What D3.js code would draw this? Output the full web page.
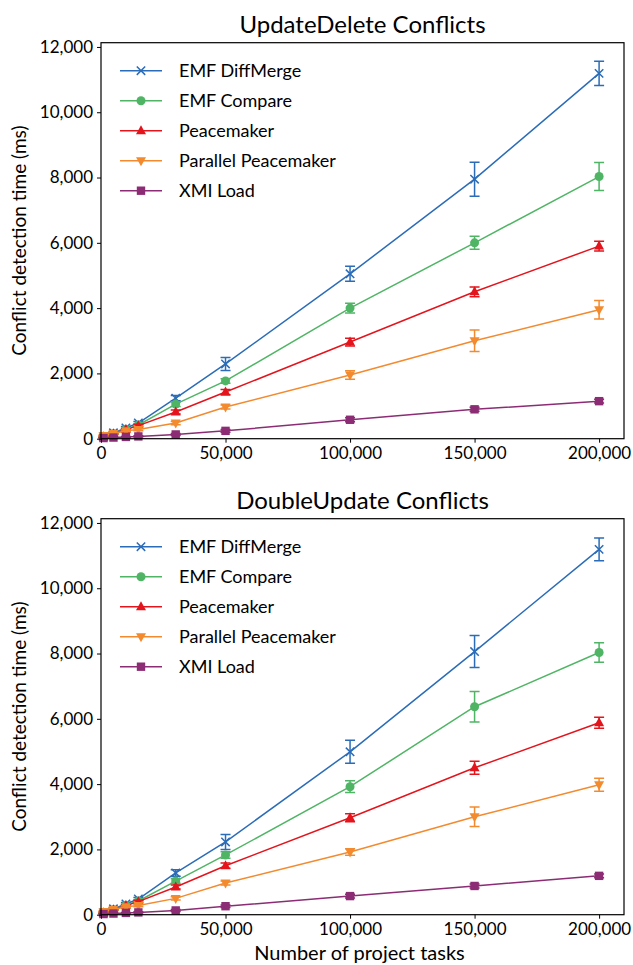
<!DOCTYPE html>
<html><head><meta charset="utf-8">
<script src="https://cdn.jsdelivr.net/npm/d3@7"></script>
<style>body{margin:0;background:#fff;} svg{display:block;font-family:Lato,"Open Sans",sans-serif;}</style>
</head><body>
<svg id="c" width="633" height="965"></svg>
<script>
const xs = [1000, 5000, 10000, 15000, 30000, 50000, 100000, 150000, 200000];
const seriesNames = ["EMF DiffMerge", "EMF Compare", "Peacemaker", "Parallel Peacemaker", "XMI Load"];
const colors = ["#2b6cb8", "#4fb565", "#e3141c", "#f38a2e", "#8b2c74"];
const markers = ["x", "circle", "tri-up", "tri-down", "square"];
const titles = ["UpdateDelete Conflicts", "DoubleUpdate Conflicts"];
const xTicks = [0, 50000, 100000, 150000, 200000];
const yTicks = [0, 2000, 4000, 6000, 8000, 10000, 12000];

// UpdateDelete
const udMean = [
  [60, 180, 330, 480, 1240, 2290, 5050, 7950, 11190],
  [50, 150, 290, 420, 1060, 1770, 4000, 6000, 8030],
  [60, 150, 280, 400, 820, 1430, 2960, 4500, 5900],
  [100, 160, 240, 280, 480, 970, 1950, 3000, 3950],
  [20, 35, 55, 70, 130, 240, 580, 900, 1150]
];
const udErr = [
  [20, 30, 40, 50, 80, 200, 230, 520, 370],
  [15, 25, 30, 40, 70, 70, 150, 200, 430],
  [15, 25, 30, 40, 60, 80, 120, 150, 150],
  [20, 25, 30, 40, 50, 60, 130, 330, 280],
  [10, 10, 15, 20, 30, 40, 60, 60, 60]
];
// DoubleUpdate
const duMean = [
  [60, 180, 330, 480, 1280, 2230, 4990, 8060, 11190],
  [50, 150, 290, 420, 1030, 1830, 3920, 6370, 8030],
  [60, 150, 280, 400, 850, 1500, 2970, 4500, 5880],
  [100, 160, 240, 280, 500, 970, 1920, 3000, 3980],
  [20, 35, 55, 70, 130, 260, 570, 880, 1190]
];
const duErr = [
  [20, 30, 40, 50, 100, 230, 350, 490, 350],
  [15, 25, 30, 40, 70, 100, 180, 470, 300],
  [15, 25, 30, 40, 60, 80, 120, 200, 170],
  [20, 25, 30, 40, 50, 60, 100, 300, 200],
  [10, 10, 15, 20, 30, 40, 60, 60, 60]
];

const svg = d3.select("#c");
const L = 101, R = 624;
const panels = [
  {top: 42.7, bottom: 438.7, mean: udMean, err: udErr, title: titles[0], xlabel: false},
  {top: 518.7, bottom: 914.7, mean: duMean, err: duErr, title: titles[1], xlabel: true}
];
const fmt = d3.format(",");

function drawMarker(g, type, x, y, color) {
  const s = 4.2;
  if (type === "x") {
    g.append("path").attr("d", `M${x-s},${y-s}L${x+s},${y+s}M${x-s},${y+s}L${x+s},${y-s}`)
      .attr("stroke", color).attr("stroke-width", 1.5).attr("fill", "none");
  } else if (type === "circle") {
    g.append("circle").attr("cx", x).attr("cy", y).attr("r", 4.5).attr("fill", color);
  } else if (type === "tri-up") {
    g.append("path").attr("d", `M${x},${y-5.5}L${x+5},${y+3.5}L${x-5},${y+3.5}Z`).attr("fill", color);
  } else if (type === "tri-down") {
    g.append("path").attr("d", `M${x},${y+5.5}L${x+5},${y-3.5}L${x-5},${y-3.5}Z`).attr("fill", color);
  } else if (type === "square") {
    g.append("rect").attr("x", x-4.2).attr("y", y-4.2).attr("width", 8.4).attr("height", 8.4).attr("fill", color);
  }
}

panels.forEach(p => {
  const x = d3.scaleLinear().domain([0, 210000]).range([L, R]);
  const y = d3.scaleLinear().domain([0, 12130]).range([p.bottom, p.top]);
  const g = svg.append("g");

  seriesNames.forEach((name, si) => {
    const c = colors[si];
    const line = d3.line().x((d, i) => x(xs[i])).y(d => y(d));
    g.append("path").datum(p.mean[si]).attr("d", line).attr("fill", "none")
      .attr("stroke", c).attr("stroke-width", 1.5);
    p.mean[si].forEach((v, i) => {
      const e = p.err[si][i];
      const px = x(xs[i]);
      g.append("path").attr("d",
        `M${px},${y(v-e)}L${px},${y(v+e)}M${px-5},${y(v-e)}L${px+5},${y(v-e)}M${px-5},${y(v+e)}L${px+5},${y(v+e)}`)
        .attr("stroke", c).attr("stroke-width", 1.5).attr("fill", "none");
      drawMarker(g, markers[si], px, y(v), c);
    });
  });

  g.append("rect").attr("x", L).attr("y", p.top).attr("width", R-L).attr("height", p.bottom-p.top)
    .attr("fill", "none").attr("stroke", "#000").attr("stroke-width", 1.2);

  const xa = g.append("g").attr("transform", `translate(0,${p.bottom})`)
    .call(d3.axisBottom(x).tickValues(xTicks).tickFormat(fmt).tickSize(4).tickPadding(4));
  const ya = g.append("g").attr("transform", `translate(${L},0)`)
    .call(d3.axisLeft(y).tickValues(yTicks).tickFormat(fmt).tickSize(4).tickPadding(4));
  [xa, ya].forEach(a => {
    a.select(".domain").remove();
    a.selectAll("text").attr("font-size", 17).attr("fill", "#000").attr("font-family", "Lato, sans-serif");
    a.selectAll("line").attr("stroke", "#000");
  });

  g.append("text").attr("x", (L+R)/2).attr("y", p.top - 10).attr("text-anchor", "middle")
    .attr("font-size", 24).text(p.title);

  g.append("text").attr("transform", `translate(26,${(p.top+p.bottom)/2}) rotate(-90)`)
    .attr("text-anchor", "middle").attr("font-size", 19).text("Conflict detection time (ms)");

  if (p.xlabel) {
    g.append("text").attr("x", (L+R)/2 - 3).attr("y", p.bottom + 45).attr("text-anchor", "middle")
      .attr("font-size", 20).text("Number of project tasks");
  }

  const lg = g.append("g");
  seriesNames.forEach((name, si) => {
    const ly = p.top + 28 + si * 30;
    lg.append("line").attr("x1", 120).attr("x2", 162).attr("y1", ly).attr("y2", ly)
      .attr("stroke", colors[si]).attr("stroke-width", 1.5);
    drawMarker(lg, markers[si], 141, ly, colors[si]);
    lg.append("text").attr("x", 179).attr("y", ly + 6).attr("font-size", 18).text(name);
  });
});
</script>
</body></html>
